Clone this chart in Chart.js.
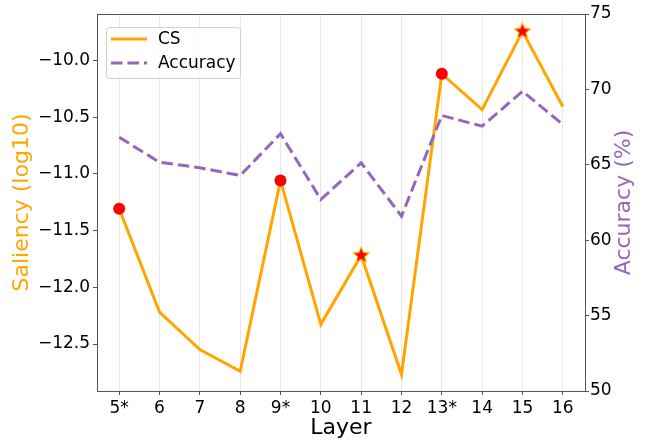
<!DOCTYPE html>
<html><head><meta charset="utf-8">
<script src="https://cdn.jsdelivr.net/npm/chart.js@4.4.0/dist/chart.umd.min.js"></script>
<style>html,body{margin:0;padding:0;background:#fff;}#wrap{width:655px;height:441px;position:relative;}</style>
</head><body><div id="wrap"><canvas id="c" width="655" height="441"></canvas></div>
<script>
const layers = ['5*','6','7','8','9*','10','11','12','13*','14','15','16'];
const csValues = [-11.307,-12.218,-12.549,-12.740,-11.057,-12.326,-11.718,-12.767,-10.117,-10.432,-9.742,-10.405];
const accuracyValues = [66.83,65.17,64.80,64.29,67.06,62.70,65.13,61.59,68.27,67.56,69.88,67.67];
const circleLayers = ['5*','9*','13*'];
const starLayers = ['11','15'];
const saliencyTicks = [-12.5,-12.0,-11.5,-11.0,-10.5,-10.0];
const accuracyTicks = [50,55,60,65,70,75];

const ORANGE = '#FFA500', PURPLE = '#9467bd', FONT = "'DejaVu Sans', sans-serif";

function starCanvas(r){
  const s = Math.ceil(r*2+4), c = document.createElement('canvas');
  c.width = s; c.height = s;
  const g = c.getContext('2d');
  g.beginPath();
  for(let i=0;i<10;i++){
    const rad = i%2===0 ? r : r*0.42;
    const a = -Math.PI/2 + i*Math.PI/5;
    const x = s/2 + rad*Math.cos(a), y = s/2 + rad*Math.sin(a);
    i===0 ? g.moveTo(x,y) : g.lineTo(x,y);
  }
  g.closePath();
  g.fillStyle = '#ff0000'; g.fill();
  g.strokeStyle = '#FFD700'; g.lineWidth = 1; g.stroke();
  return c;
}
const starImg = starCanvas(9);

const csPts = csValues.map((v,i)=>({x:i,y:v}));
const accPts = accuracyValues.map((v,i)=>({x:i,y:v}));
const circlePts = circleLayers.map(l=>{const i=layers.indexOf(l);return {x:i,y:csValues[i]};});
const starPts = starLayers.map(l=>{const i=layers.indexOf(l);return {x:i,y:csValues[i]};});

const framePlugin = {
  id:'frame',
  afterDatasetsDraw(chart){
    const {ctx, chartArea:a} = chart;
    ctx.save(); ctx.strokeStyle='#555'; ctx.lineWidth=1;
    ctx.strokeRect(Math.round(a.left)+0.5, Math.round(a.top)+0.5, Math.round(a.right-a.left), Math.round(a.bottom-a.top));
    ctx.restore();
  }
};
const rightTitlePlugin = {
  id:'rightTitle',
  afterDraw(chart){
    const ctx = chart.ctx, a = chart.chartArea;
    ctx.save();
    ctx.translate(624, (a.top+a.bottom)/2);
    ctx.rotate(-Math.PI/2);
    ctx.font = "22px "+FONT; ctx.fillStyle = PURPLE; ctx.textAlign='center'; ctx.textBaseline='middle';
    ctx.fillText('Accuracy (%)', 0, 0);
    ctx.restore();
  }
};
const legendPlugin = {
  id:'boxLegend',
  afterDraw(chart){
    const ctx = chart.ctx, a = chart.chartArea;
    const x0 = a.left+9, y0 = a.top+13, w = 134, h = 51;
    ctx.save();
    ctx.beginPath();
    if (ctx.roundRect) ctx.roundRect(x0+0.5,y0+0.5,w,h,3); else ctx.rect(x0+0.5,y0+0.5,w,h);
    ctx.fillStyle='rgba(255,255,255,0.8)'; ctx.fill();
    ctx.strokeStyle='#d0d0d0'; ctx.lineWidth=1; ctx.stroke();
    const items = [
      {label: chart.data.datasets[2].label, color: ORANGE, dash: []},
      {label: chart.data.datasets[3].label, color: PURPLE, dash: [11.5,5]}
    ];
    items.forEach((it,k)=>{
      const yy = y0 + 12 + k*24;
      ctx.beginPath(); ctx.setLineDash(it.dash); ctx.strokeStyle=it.color; ctx.lineWidth=3;
      ctx.moveTo(x0+5,yy); ctx.lineTo(x0+41,yy); ctx.stroke();
      ctx.setLineDash([]);
      ctx.fillStyle='#000'; ctx.font = "17px "+FONT; ctx.textBaseline='middle'; ctx.textAlign='left';
      ctx.fillText(it.label, x0+52, yy+1);
    });
    ctx.restore();
  }
};

new Chart(document.getElementById('c'), {
  type:'line',
  data:{
    datasets:[
      {label:'stars', data:starPts, yAxisID:'y', showLine:false, pointStyle:starImg, pointRadius:9, order:0},
      {label:'circles', data:circlePts, yAxisID:'y', showLine:false, pointStyle:'circle', pointRadius:6, pointBackgroundColor:'#ff0000', pointBorderColor:'#ff0000', pointBorderWidth:0, order:0},
      {label:'CS', data:csPts, yAxisID:'y', borderColor:ORANGE, borderWidth:3, pointRadius:0, fill:false, tension:0, order:2},
      {label:'Accuracy', data:accPts, yAxisID:'y2', borderColor:PURPLE, borderWidth:3, borderDash:[11.5,5], pointRadius:0, fill:false, tension:0, order:1}
    ]
  },
  options:{
    responsive:false, animation:false, devicePixelRatio:1,
    layout:{padding:{top:14,left:0,right:0,bottom:0}},
    plugins:{legend:{display:false}, tooltip:{enabled:false}},
    scales:{
      x:{type:'linear', min:-0.55, max:11.55,
        afterBuildTicks(s){ s.ticks = layers.map((l,i)=>({value:i})); },
        afterFit(s){ s.height = 50; },
        ticks:{callback:(v)=>layers[v], font:{family:FONT,size:17}, color:'#000', padding:3, maxRotation:0, autoSkip:false},
        grid:{color:'#e6e6e6', lineWidth:1, tickColor:'#555', tickLength:4},
        border:{display:false},
        title:{display:true, text:'Layer', font:{family:FONT,size:22}, color:'#000', padding:{top:0,bottom:0}}
      },
      y:{type:'linear', position:'left', min:-12.914, max:-9.589,
        afterBuildTicks(s){ s.ticks = saliencyTicks.map(v=>({value:v})); },
        afterFit(s){ s.width = 97; },
        ticks:{callback:(v)=>(v<0?'\u2212':'')+Math.abs(v).toFixed(1), font:{family:FONT,size:17}, color:'#000', padding:3},
        grid:{drawOnChartArea:false, tickColor:'#555', tickLength:4},
        border:{display:false},
        title:{display:true, text:'Saliency (log10)', font:{family:FONT,size:22}, color:ORANGE, padding:{top:9,bottom:0}}
      },
      y2:{type:'linear', position:'right', min:50, max:75,
        afterBuildTicks(s){ s.ticks = accuracyTicks.map(v=>({value:v})); },
        afterFit(s){ s.width = 70; },
        ticks:{callback:(v)=>String(v), font:{family:FONT,size:17}, color:'#000', padding:1},
        grid:{drawOnChartArea:false, tickColor:'#555', tickLength:4},
        border:{display:false},
        title:{display:false}
      }
    }
  },
  plugins:[framePlugin, legendPlugin, rightTitlePlugin]
});
</script></body></html>
